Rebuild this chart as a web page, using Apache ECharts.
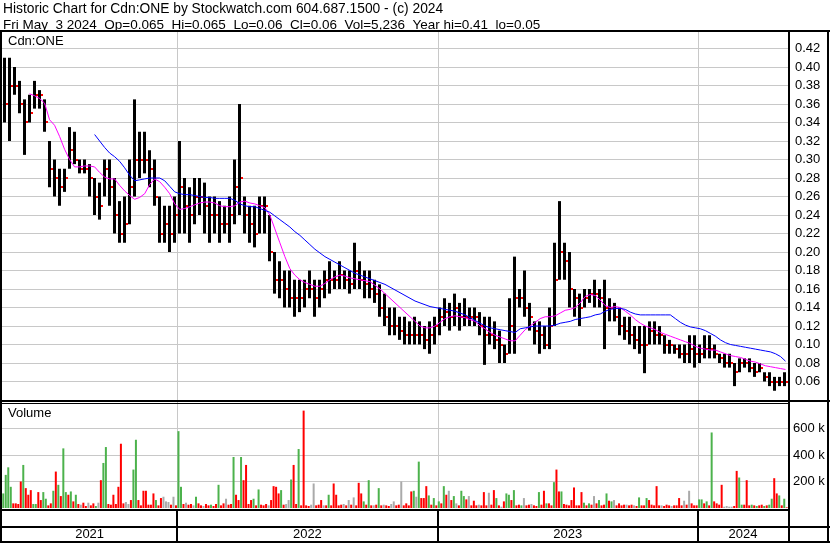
<!DOCTYPE html>
<html><head><meta charset="utf-8">
<script src="https://cdn.jsdelivr.net/npm/echarts/dist/echarts.min.js"></script>
<style>html,body{margin:0;padding:0;background:#fff}#c{width:830px;height:543px}</style>
</head><body><div id="c"></div>
<script>
// ---- data (weekly bars starting week of 2021-05-03) ----
const firstWeek = '2021-05-03';
const titleLine1 = 'Historic Chart for Cdn:ONE by Stockwatch.com 604.687.1500 - (c) 2024';
const titleLine2 = 'Fri May  3 2024  Op=0.065  Hi=0.065  Lo=0.06  Cl=0.06  Vol=5,236  Year hi=0.41  lo=0.05';
const symbolLabel = 'Cdn:ONE';
const volumeLabel = 'Volume';

const high = [
0.41,0.41,0.40,0.385,0.365,0.37,0.385,0.375,0.365,0.32,
0.30,0.29,0.29,0.335,0.33,0.30,0.30,0.295,0.28,0.275,
0.30,0.30,0.28,0.255,0.26,0.30,0.365,0.33,0.33,0.31,
0.30,0.26,0.25,0.25,0.26,0.32,0.28,0.27,0.28,0.28,
0.275,0.26,0.26,0.255,0.25,0.26,0.30,0.36,0.26,0.25,
0.25,0.26,0.26,0.24,0.20,0.19,0.18,0.18,0.17,0.17,
0.17,0.18,0.17,0.17,0.18,0.19,0.18,0.19,0.18,0.18,
0.21,0.19,0.18,0.18,0.17,0.165,0.155,0.14,0.14,0.13,
0.13,0.125,0.13,0.125,0.12,0.125,0.13,0.14,0.15,0.145,
0.155,0.145,0.15,0.14,0.14,0.135,0.13,0.13,0.125,0.115,
0.10,0.15,0.195,0.16,0.18,0.145,0.125,0.125,0.12,0.14,
0.21,0.255,0.21,0.20,0.16,0.155,0.16,0.16,0.17,0.16,
0.17,0.15,0.145,0.14,0.13,0.13,0.12,0.12,0.12,0.125,
0.125,0.12,0.11,0.105,0.10,0.10,0.10,0.11,0.11,0.10,
0.11,0.11,0.10,0.09,0.09,0.09,0.08,0.085,0.085,0.085,
0.08,0.08,0.07,0.07,0.065,0.065,0.07];
const low = [
0.34,0.32,0.37,0.35,0.305,0.34,0.355,0.355,0.33,0.27,
0.26,0.25,0.265,0.29,0.295,0.285,0.285,0.26,0.24,0.235,
0.26,0.25,0.22,0.21,0.21,0.23,0.26,0.28,0.285,0.27,
0.25,0.21,0.21,0.20,0.21,0.22,0.22,0.21,0.23,0.24,
0.22,0.21,0.22,0.21,0.22,0.21,0.23,0.24,0.22,0.21,
0.205,0.22,0.22,0.19,0.155,0.15,0.14,0.14,0.13,0.135,
0.14,0.15,0.13,0.14,0.15,0.155,0.16,0.16,0.16,0.155,
0.16,0.16,0.15,0.15,0.145,0.13,0.12,0.11,0.11,0.105,
0.10,0.10,0.10,0.10,0.095,0.09,0.10,0.11,0.12,0.115,
0.12,0.115,0.12,0.12,0.12,0.11,0.078,0.10,0.095,0.08,
0.08,0.09,0.09,0.14,0.13,0.115,0.10,0.09,0.095,0.095,
0.12,0.17,0.17,0.14,0.13,0.12,0.14,0.145,0.14,0.14,
0.095,0.125,0.125,0.11,0.105,0.10,0.095,0.09,0.069,0.10,
0.10,0.10,0.09,0.09,0.09,0.085,0.08,0.08,0.075,0.08,
0.085,0.085,0.085,0.08,0.075,0.075,0.055,0.07,0.075,0.07,
0.065,0.07,0.06,0.055,0.05,0.055,0.055];
const close = [
0.36,0.38,0.38,0.36,0.34,0.35,0.37,0.37,0.34,0.29,
0.28,0.27,0.28,0.31,0.30,0.29,0.29,0.28,0.26,0.25,
0.29,0.27,0.24,0.22,0.23,0.27,0.30,0.30,0.30,0.29,
0.26,0.22,0.23,0.22,0.24,0.27,0.25,0.24,0.26,0.26,
0.25,0.24,0.24,0.23,0.23,0.24,0.27,0.28,0.24,0.23,
0.22,0.25,0.25,0.20,0.17,0.17,0.16,0.15,0.15,0.15,
0.16,0.16,0.15,0.16,0.17,0.17,0.17,0.175,0.17,0.165,
0.18,0.17,0.165,0.16,0.155,0.14,0.13,0.12,0.12,0.115,
0.11,0.11,0.11,0.11,0.105,0.11,0.12,0.13,0.135,0.13,
0.14,0.13,0.13,0.13,0.13,0.12,0.11,0.11,0.105,0.10,
0.09,0.12,0.15,0.15,0.14,0.13,0.115,0.11,0.10,0.12,
0.17,0.20,0.19,0.16,0.15,0.14,0.15,0.155,0.155,0.15,
0.14,0.14,0.13,0.12,0.115,0.11,0.105,0.10,0.10,0.115,
0.11,0.11,0.10,0.10,0.095,0.09,0.09,0.095,0.09,0.09,
0.095,0.095,0.09,0.085,0.08,0.08,0.07,0.08,0.08,0.075,
0.07,0.075,0.065,0.06,0.06,0.06,0.06];
const maFast = [
null,null,null,null,null,0.371,0.369,0.366,0.361,0.343,
0.337,0.325,0.311,0.30,0.292,0.292,0.293,0.293,0.292,0.286,
0.281,0.279,0.279,0.272,0.266,0.261,0.257,0.259,0.263,0.273,
0.279,0.276,0.27,0.263,0.252,0.246,0.247,0.249,0.251,0.253,
0.254,0.254,0.253,0.25,0.249,0.249,0.25,0.254,0.255,0.253,
0.252,0.25,0.248,0.24,0.225,0.21,0.195,0.182,0.175,0.17,
0.167,0.165,0.163,0.163,0.166,0.17,0.173,0.175,0.174,0.172,
0.171,0.17,0.169,0.168,0.164,0.16,0.155,0.15,0.145,0.14,
0.135,0.13,0.125,0.12,0.118,0.118,0.12,0.124,0.128,0.13,
0.131,0.13,0.129,0.127,0.125,0.12,0.117,0.113,0.11,0.108,
0.106,0.104,0.104,0.11,0.116,0.12,0.124,0.128,0.13,0.13,
0.131,0.134,0.137,0.138,0.14,0.145,0.152,0.154,0.153,0.148,
0.142,0.14,0.141,0.14,0.136,0.132,0.127,0.123,0.12,0.118,
0.116,0.113,0.111,0.109,0.107,0.105,0.103,0.101,0.098,0.096,
0.095,0.094,0.094,0.092,0.09,0.088,0.087,0.086,0.084,0.082,
0.081,0.079,0.077,0.076,0.075,0.074,0.073];
const maSlow = [
null,null,null,null,null,null,null,null,null,null,
null,null,null,null,null,null,null,null,0.327,0.32,
0.313,0.307,0.303,0.298,0.291,0.283,0.277,0.278,0.279,0.28,
0.28,0.28,0.277,0.271,0.265,0.263,0.262,0.262,0.261,0.26,
0.259,0.259,0.258,0.258,0.258,0.258,0.256,0.252,0.25,0.249,
0.249,0.247,0.245,0.243,0.239,0.235,0.231,0.227,0.222,0.218,
0.213,0.208,0.203,0.199,0.195,0.192,0.189,0.186,0.183,0.18,
0.177,0.175,0.173,0.171,0.169,0.167,0.165,0.162,0.159,0.156,
0.153,0.15,0.147,0.145,0.143,0.141,0.14,0.139,0.138,0.137,
0.136,0.134,0.132,0.129,0.126,0.123,0.12,0.118,0.117,0.116,
0.115,0.114,0.113,0.117,0.118,0.119,0.12,0.12,0.12,0.12,
0.121,0.123,0.124,0.125,0.127,0.128,0.129,0.13,0.132,0.133,
0.136,0.138,0.139,0.139,0.138,0.135,0.133,0.132,0.132,0.132,
0.132,0.132,0.132,0.132,0.128,0.124,0.121,0.119,0.118,0.117,
0.115,0.112,0.109,0.105,0.102,0.10,0.099,0.098,0.097,0.096,
0.095,0.094,0.093,0.092,0.09,0.087,0.082];
// volume in thousands, two values per week (half-week)
const volumeK = [
110,250,307,160,35,35,30,200,325,150,
100,135,30,30,120,60,120,70,20,35,
130,275,175,90,450,120,100,125,50,100,
30,25,40,15,40,20,35,15,40,210,
340,460,30,25,100,30,160,485,35,45,
30,60,290,515,60,20,130,130,25,25,
110,60,20,75,85,50,45,25,85,20,
580,160,30,40,25,30,20,85,35,20,
15,30,20,25,15,30,175,20,35,70,
25,30,385,100,60,385,210,325,30,60,
70,20,140,25,20,30,20,60,165,160,
110,135,25,30,60,215,325,30,445,20,
735,20,15,25,185,20,25,60,20,20,
100,20,185,100,20,25,30,20,60,25,
80,20,190,110,50,25,210,20,20,25,
150,20,25,20,15,30,50,20,25,200,
20,35,20,125,130,85,350,75,75,165,
95,25,75,20,50,35,165,100,130,60,
90,35,20,130,90,65,90,20,55,20,
25,20,120,20,115,25,135,75,20,10,
50,110,100,60,135,20,25,20,75,20,
25,30,20,15,120,25,130,35,35,20,
195,290,125,125,30,25,20,60,155,20,
20,120,40,20,35,25,90,35,60,20,
25,110,55,50,60,20,35,20,25,25,
20,25,20,15,80,20,20,75,60,25,
20,165,20,20,15,25,20,15,20,20,
75,20,55,25,130,35,20,20,65,65,
35,50,20,570,50,35,25,175,10,15,
10,10,15,280,230,25,25,210,20,25,
20,15,20,25,15,20,25,70,225,110,
95,20,70,5];
// g = up day (green), r = down day (red), n = unchanged (gray)
const volumeDir = (
'ggggrrrrgr'+'rrggrrggrr'+'grgrggrgrg'+'rnrrnrrgnr'+'ggrrrrrrrn'+
'nrggrrrrrr'+'rgrrnnnrnr'+'ggrnrrngrr'+'nrrgrrgrrn'+'rrgrrgrrrr'+
'grgrrrnrrr'+'rgrnngrrgr'+'rrrnnrrrnr'+'grrrrrnrnr'+'nrrrgrgrnr'+
'grnrrnnrrn'+'rrrrgngrrr'+'grgrgrgrnr'+'gnrggrnrrr'+'nrrrnrrgrn'+
'rggrgrrgnr'+'rnrrgrrgrr'+'grrgrrrrrr'+'rrgrgrnrgr'+'rgrgnrrrrn'+
'rrnrgrrgrr'+'rrrnrrrnrr'+'rrnrnrrrgg'+'rgrgrrrrnn'+'nnrrggrrrg'+
'rgrrgrggrr'+'grgr').split('');
const priceAxis = {min: 0.04, max: 0.44, step: 0.02};
const volumeAxis = {min: 0, max: 800, step: 200};

// ---- derived categories ----
const weeks = [];
{
  const d0 = new Date(firstWeek + 'T00:00:00Z');
  for (let i = 0; i < high.length; i++) {
    const d = new Date(d0.getTime() + i * 7 * 86400000);
    weeks.push(d.toISOString().slice(0, 10));
  }
}
const halfWeeks = [];
weeks.forEach(w => { halfWeeks.push(w + 'a'); halfWeeks.push(w + 'b'); });
const yearSpans = [];
weeks.forEach((w, i) => {
  const y = w.slice(0, 4);
  const last = yearSpans[yearSpans.length - 1];
  if (!last || last.year !== y) yearSpans.push({year: y, start: i, end: i});
  else last.end = i;
});
const yearStarts = yearSpans.slice(1).map(s => s.start);

const FONT = '"Liberation Sans", Arial, sans-serif';
const colors = {g: '#4cb24c', r: '#ff0000', n: '#aaaaaa'};

const priceData = weeks.map((w, i) => [i, low[i], high[i], close[i]]);
const volData = volumeK.map((v, j) => ({value: v, itemStyle: {color: colors[volumeDir[j]]}}));

const chart = echarts.init(document.getElementById('c'), null, {renderer: 'canvas'});

function frameRect(x, y, w, h) {
  return {type: 'rect', z: 100, silent: true, shape: {x, y, width: w, height: h}, style: {fill: '#000'}};
}
function label(text, x, y, size) {
  return {type: 'text', z: 100, silent: true, style: {text, x, y, font: size + 'px ' + FONT, fill: '#000', align: 'left', verticalAlign: 'middle'}};
}

const option = {
  animation: false,
  backgroundColor: '#ffffff',
  grid: [
    {left: 2, width: 786, top: 30, height: 370},
    {left: 2, width: 786, top: 402, height: 106},
    {left: 2, width: 786, top: 511, height: 30}
  ],
  xAxis: [
    {type: 'category', gridIndex: 0, data: weeks, show: false},
    {type: 'category', gridIndex: 1, data: halfWeeks, show: false},
    {type: 'category', gridIndex: 2, data: weeks, show: false}
  ],
  yAxis: [
    {type: 'value', gridIndex: 0, position: 'right', min: priceAxis.min, max: priceAxis.max, interval: priceAxis.step,
     axisLine: {show: false}, axisTick: {show: false},
     splitLine: {show: true, lineStyle: {color: ['rgba(0,0,0,0)', '#c8c8c8','#c8c8c8','#c8c8c8','#c8c8c8','#c8c8c8','#c8c8c8','#c8c8c8','#c8c8c8','#c8c8c8','#c8c8c8','#c8c8c8','#c8c8c8','#c8c8c8','#c8c8c8','#c8c8c8','#c8c8c8','#c8c8c8','#c8c8c8','#c8c8c8', 'rgba(0,0,0,0)'], width: 1}},
     axisLabel: {margin: 7, color: '#000', fontFamily: FONT, fontSize: 13, showMinLabel: false, showMaxLabel: false,
       formatter: v => v.toFixed(2)}},
    {type: 'value', gridIndex: 1, position: 'right', min: volumeAxis.min, max: volumeAxis.max, interval: volumeAxis.step,
     axisLine: {show: false}, axisTick: {show: false},
     splitLine: {show: true, lineStyle: {color: ['rgba(0,0,0,0)', '#c8c8c8', '#c8c8c8', '#c8c8c8', 'rgba(0,0,0,0)'], width: 1}},
     axisLabel: {margin: 5, color: '#000', fontFamily: FONT, fontSize: 13, showMinLabel: false, showMaxLabel: false,
       formatter: v => v + ' k'}},
    {type: 'value', gridIndex: 2, min: 0, max: 1, show: false}
  ],
  series: [
    { // year lines in price panel
      type: 'custom', xAxisIndex: 0, yAxisIndex: 0, z: 1, silent: true,
      data: yearStarts.map(s => [s]),
      renderItem: (params, api) => {
        const bw = api.size([1, 0])[0];
        const x = Math.round(api.coord([api.value(0), priceAxis.min])[0] - bw / 2) + 0.5;
        return {type: 'line', shape: {x1: x, y1: api.coord([api.value(0), priceAxis.max])[1], x2: x, y2: api.coord([api.value(0), priceAxis.min])[1]},
          style: {stroke: '#c8c8c8', lineWidth: 1}};
      }
    },
    { // year lines in volume panel
      type: 'custom', xAxisIndex: 1, yAxisIndex: 1, z: 1, silent: true,
      data: yearStarts.map(s => [s * 2]),
      renderItem: (params, api) => {
        const bw = api.size([1, 0])[0];
        const x = Math.round(api.coord([api.value(0), 0])[0] - bw / 2) + 0.5;
        return {type: 'line', shape: {x1: x, y1: api.coord([api.value(0), volumeAxis.max])[1], x2: x, y2: api.coord([api.value(0), volumeAxis.min])[1]},
          style: {stroke: '#c8c8c8', lineWidth: 1}};
      }
    },
    { // price bars
      type: 'custom', name: 'Price', xAxisIndex: 0, yAxisIndex: 0, z: 3, silent: true,
      data: priceData,
      renderItem: (params, api) => {
        const i = api.value(0);
        const x = Math.round(api.coord([i, 0.1])[0]);
        const yHi = api.coord([i, api.value(2)])[1];
        const yLo = api.coord([i, api.value(1)])[1];
        const yCl = api.coord([i, api.value(3)])[1];
        return {type: 'group', children: [
          {type: 'rect', shape: {x: x - 2, y: yHi, width: 3, height: Math.max(1, yLo - yHi)}, style: {fill: '#000'}},
          {type: 'rect', shape: {x: x + 1, y: Math.round(yCl) - 1, width: 2, height: 2}, style: {fill: '#ff0000'}}
        ]};
      }
    },
    {type: 'line', name: 'MA fast', xAxisIndex: 0, yAxisIndex: 0, data: maFast, showSymbol: false, z: 4,
     lineStyle: {color: '#ff00ff', width: 1}, connectNulls: false, silent: true},
    {type: 'line', name: 'MA slow', xAxisIndex: 0, yAxisIndex: 0, data: maSlow, showSymbol: false, z: 4,
     lineStyle: {color: '#0000ff', width: 1}, connectNulls: false, silent: true},
    {type: 'bar', name: 'Volume', xAxisIndex: 1, yAxisIndex: 1, data: volData, barWidth: 2, z: 3, silent: true},
    { // year band
      type: 'custom', xAxisIndex: 2, yAxisIndex: 2, z: 5, silent: true,
      data: yearSpans.map(s => [s.start, s.end, s.year]),
      renderItem: (params, api) => {
        const span = yearSpans[params.dataIndex];
        const bw = api.size([1, 0])[0];
        const x0 = api.coord([span.start, 0])[0] - bw / 2;
        const x1 = api.coord([span.end, 0])[0] + bw / 2;
        const yTop = api.coord([span.start, 1])[1];
        const yBot = api.coord([span.start, 0])[1];
        const yMid = api.coord([span.start, 0.22])[1];
        const ch = [{type: 'text', style: {text: span.year, x: (x0 + x1) / 2, y: yMid, align: 'center', verticalAlign: 'middle', font: '13px ' + FONT, fill: '#000'}}];
        if (span.start > 0) {
          const xl = Math.round(x0);
          ch.push({type: 'rect', shape: {x: xl - 1, y: yTop, width: 2, height: yBot - yTop}, style: {fill: '#000'}});
        }
        return {type: 'group', children: ch};
      }
    }
  ],
  graphic: [
    frameRect(0, 30, 830, 2),
    frameRect(0, 30, 2, 513),
    frameRect(0, 400, 830, 2),
    frameRect(0, 403, 790, 1),
    frameRect(0, 509, 790, 2),
    frameRect(0, 526, 830, 2),
    frameRect(0, 541, 830, 2),
    frameRect(788, 30, 2, 513),
    frameRect(827, 30, 2, 513),
    label(titleLine1, 3, 9.5, 13.8),
    label(titleLine2, 3, 25, 13.5),
    label(symbolLabel, 8, 41.5, 13),
    label(volumeLabel, 8, 413, 13)
  ]
};
chart.setOption(option);
</script>
</body></html>
